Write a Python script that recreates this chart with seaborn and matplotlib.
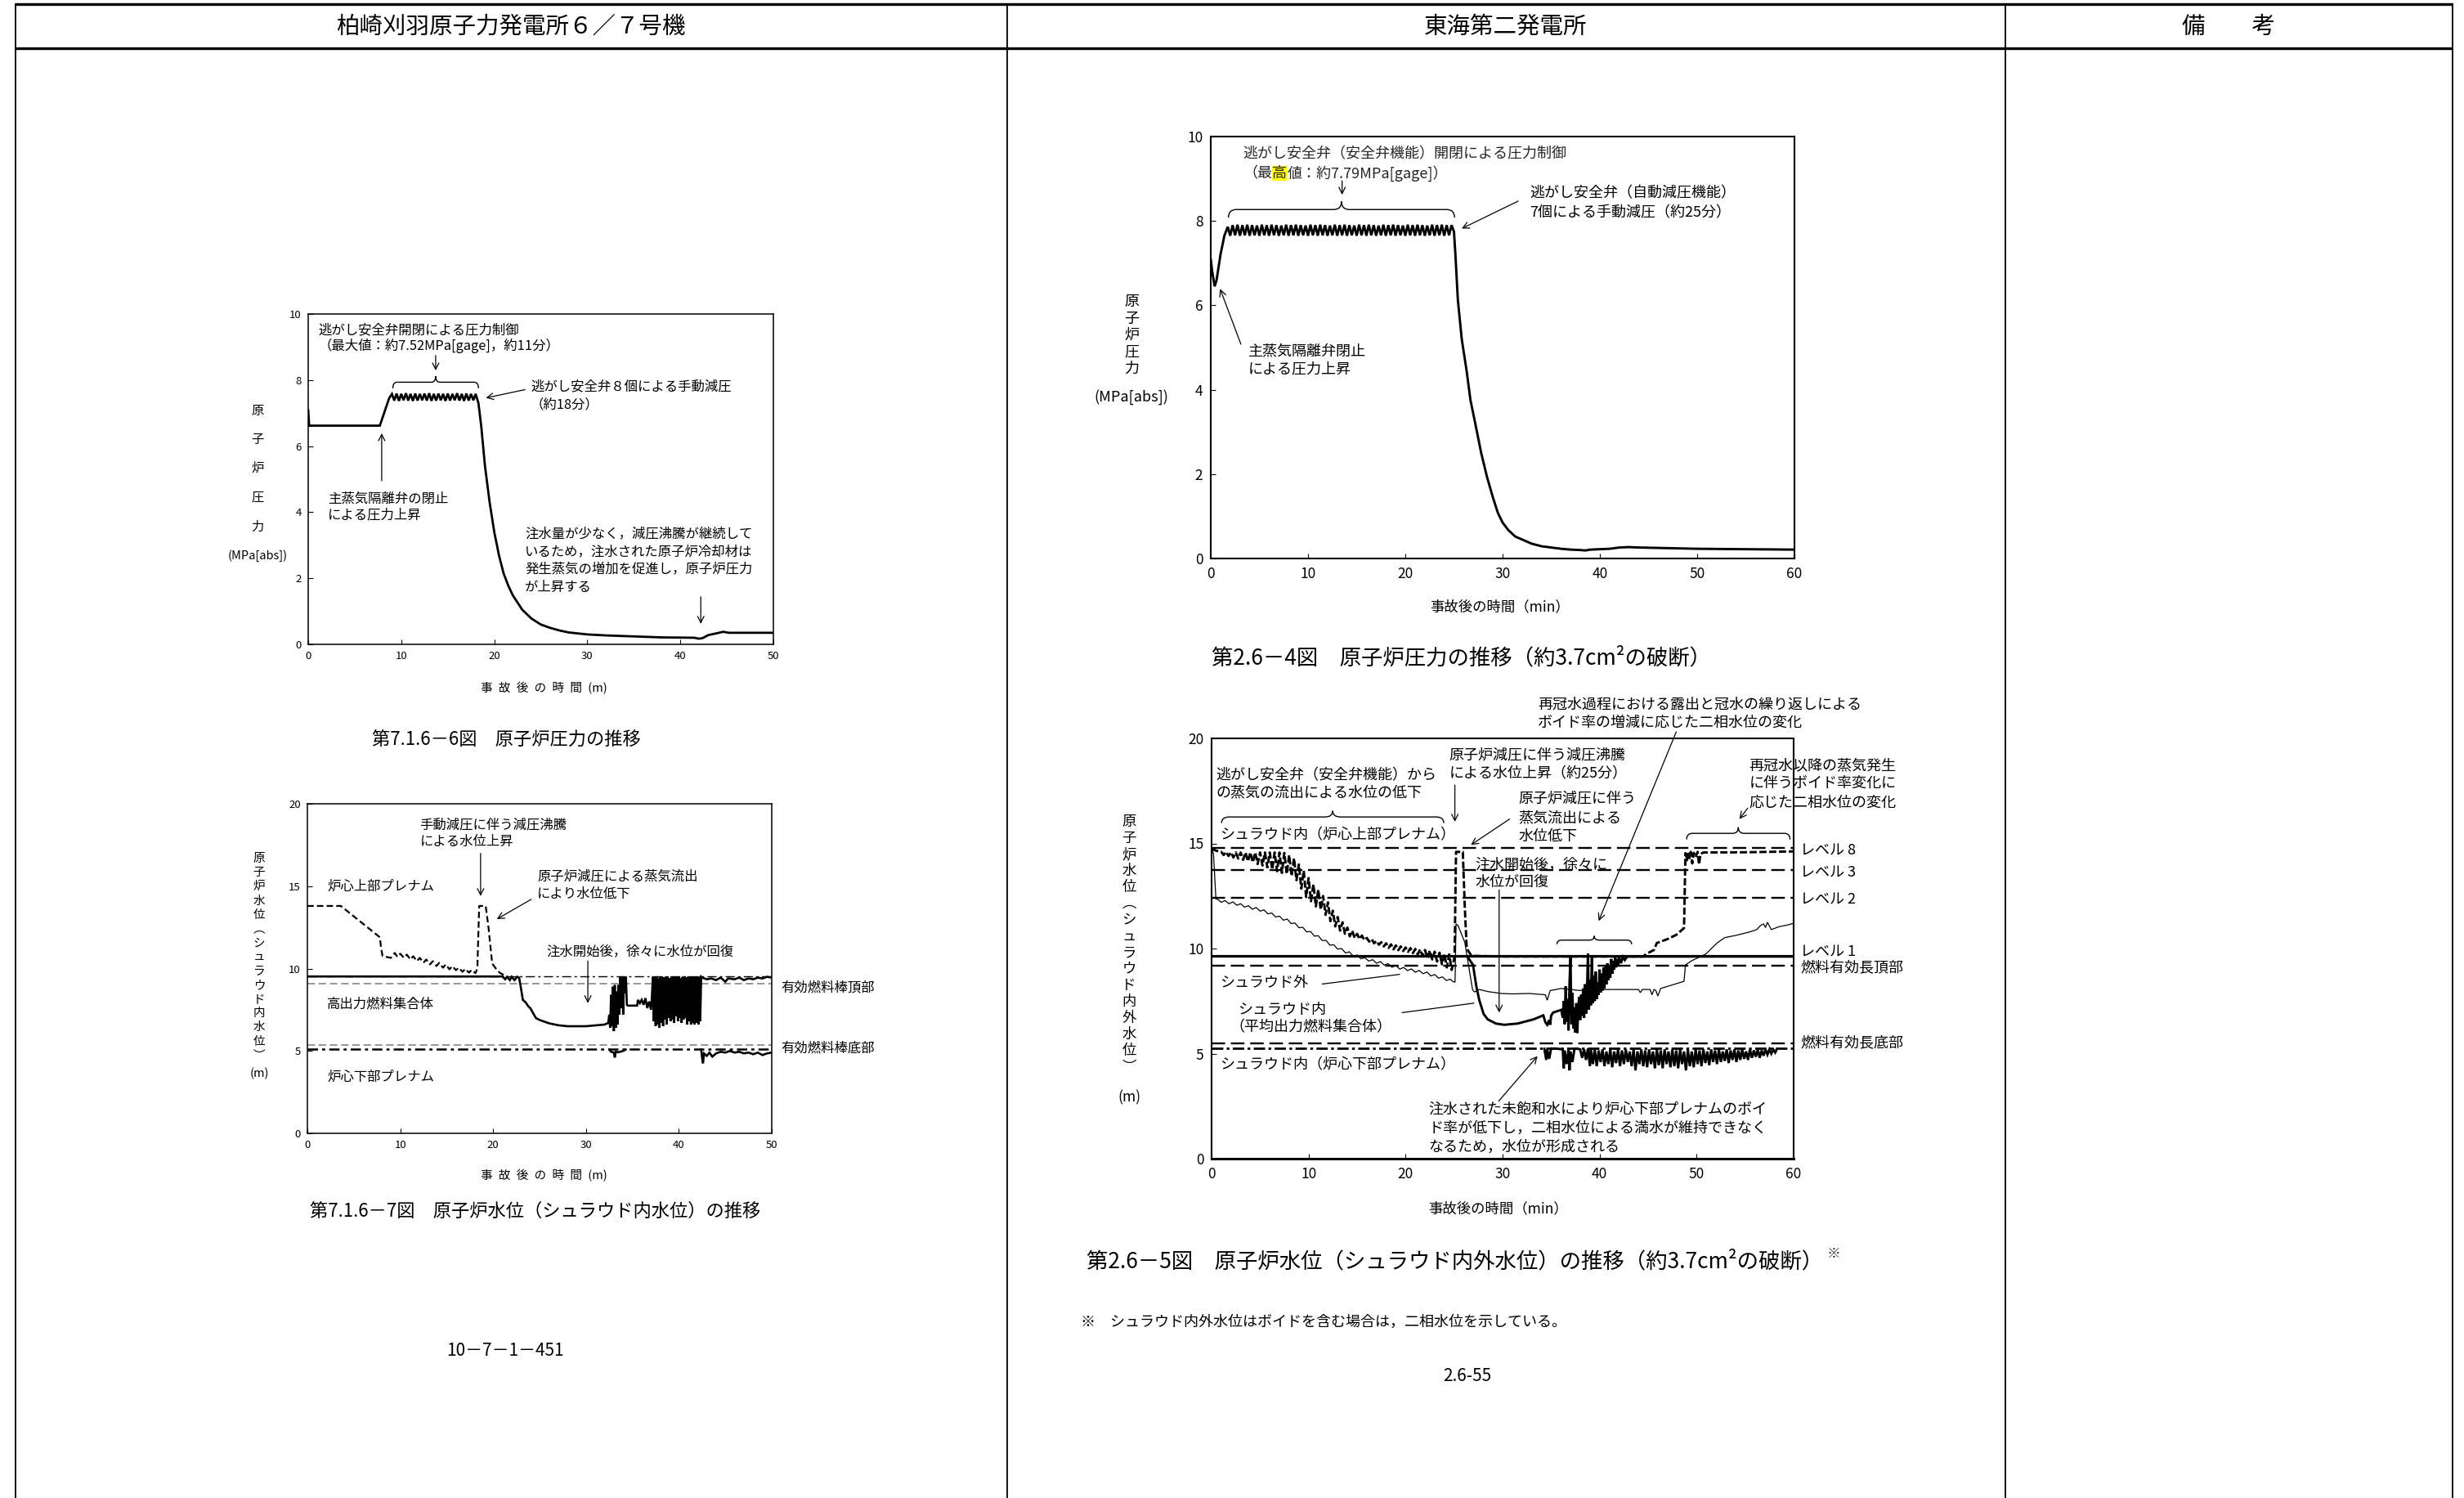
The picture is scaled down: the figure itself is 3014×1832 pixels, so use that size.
import numpy as np
import pandas as pd
import matplotlib
matplotlib.use("Agg")
import matplotlib.pyplot as plt
import matplotlib.text
import seaborn as sns
from matplotlib.path import Path
from matplotlib.patches import PathPatch
from matplotlib.lines import Line2D

# ====================== DATA ======================
# --- Fig 7.1.6-6 : KK reactor pressure (MPa[abs]) ---
kk_p_pre = [(0.0, 7.1), (0.1, 6.62), (7.7, 6.62), (8.7, 7.45)]
kk_p_zig_t = [9.00, 9.25, 9.50, 9.75, 10.00, 10.25, 10.50, 10.75, 11.00, 11.25, 11.50, 11.75,
              12.00, 12.25, 12.50, 12.75, 13.00, 13.25, 13.50, 13.75, 14.00, 14.25, 14.50, 14.75,
              15.00, 15.25, 15.50, 15.75, 16.00, 16.25, 16.50, 16.75, 17.00, 17.25, 17.50, 17.75, 18.00]
kk_p_zig_v = [7.58, 7.38, 7.59, 7.37, 7.58, 7.39, 7.60, 7.38, 7.58, 7.37, 7.59, 7.38,
              7.58, 7.39, 7.59, 7.38, 7.60, 7.37, 7.58, 7.38, 7.59, 7.39, 7.58, 7.37,
              7.59, 7.38, 7.58, 7.39, 7.60, 7.38, 7.58, 7.37, 7.59, 7.38, 7.58, 7.39, 7.58]
kk_p_post = [(18.3, 7.3), (18.6, 6.6), (19.0, 5.4), (19.5, 4.3), (20.0, 3.4), (20.5, 2.7), (21.0, 2.15),
             (21.5, 1.78), (22.0, 1.48), (23.0, 1.05), (24.0, 0.78), (25.0, 0.6), (26.0, 0.5), (27.0, 0.42),
             (28.0, 0.36), (30.0, 0.3), (32.0, 0.27), (35.0, 0.24), (38.0, 0.21), (41.5, 0.2), (42.0, 0.17),
             (42.4, 0.19), (43.0, 0.28), (44.0, 0.34), (44.6, 0.38), (45.2, 0.35), (50.0, 0.35)]

# --- Fig 7.1.6-7 : KK water level (m) ---
kk_up = [(0.0, 13.8), (3.6, 13.8), (7.8, 11.9), (7.95, 11.2), (8.1, 10.75), (9.0, 10.65), (9.4, 10.95),
         (9.7, 10.7), (10.0, 10.9), (10.4, 10.65), (10.7, 10.85), (11.1, 10.55), (11.4, 10.75), (11.8, 10.45),
         (12.1, 10.65), (12.5, 10.35), (12.8, 10.55), (13.2, 10.25), (13.5, 10.45), (13.9, 10.15), (14.2, 10.35),
         (14.6, 10.05), (14.9, 10.25), (15.3, 9.95), (15.6, 10.15), (16.0, 9.9), (16.3, 10.05), (16.7, 9.8),
         (17.0, 9.98), (17.4, 9.75), (17.7, 9.92), (18.1, 9.72), (18.3, 10.0), (18.5, 13.8), (19.2, 13.8),
         (19.5, 12.5), (19.9, 10.3), (20.3, 10.0), (20.7, 9.75), (21.3, 9.55)]
kk_hp = [(0.0, 9.52), (21.0, 9.52), (21.3, 9.35), (21.5, 9.5), (21.8, 9.3), (22.0, 9.5), (22.3, 9.3),
         (22.6, 9.5), (22.8, 9.45), (23.0, 8.8), (23.2, 8.1), (23.5, 7.95), (23.8, 7.7), (24.0, 7.6),
         (24.3, 7.3), (24.6, 7.0), (25.0, 6.88), (26.0, 6.68), (27.0, 6.56), (28.0, 6.5), (30.0, 6.5),
         (31.0, 6.55), (32.0, 6.6), (32.4, 6.7), (32.5, 7.2), (32.6, 6.4), (32.7, 8.4), (32.8, 6.5),
         (32.9, 8.9), (33.0, 6.2), (33.1, 9.0), (33.2, 6.4), (33.3, 8.6), (33.4, 6.6), (33.5, 9.0),
         (33.6, 7.2), (33.7, 9.5), (33.8, 7.6), (33.9, 9.5), (34.0, 7.2), (34.1, 9.5), (34.2, 8.5),
         (34.3, 9.5), (34.4, 7.8), (34.5, 7.75), (35.5, 7.75), (35.6, 8.1), (35.8, 7.9), (36.0, 8.1),
         (36.2, 7.8), (36.4, 8.2), (36.6, 7.6), (36.8, 8.0), (37.0, 7.5), (37.1, 8.3),
         (37.2, 9.5), (37.3, 6.8), (37.4, 9.5), (37.5, 6.5), (37.6, 9.5), (37.7, 6.6), (37.8, 9.4),
         (37.9, 6.4), (38.0, 9.5), (38.1, 6.7), (38.2, 9.5), (38.3, 6.5), (38.4, 9.45), (38.5, 6.9),
         (38.6, 9.5), (38.7, 6.6), (38.8, 9.5), (38.9, 7.0), (39.0, 9.4), (39.1, 6.8), (39.2, 9.5),
         (39.3, 6.9), (39.4, 9.5), (39.5, 6.7), (39.6, 9.45), (39.7, 7.1), (39.8, 9.5), (39.9, 6.8),
         (40.0, 9.5), (40.1, 7.0), (40.2, 9.4), (40.3, 6.7), (40.4, 9.5), (40.5, 6.9), (40.6, 9.5),
         (40.7, 7.0), (40.8, 9.45), (40.9, 6.6), (41.0, 9.5), (41.1, 6.8), (41.2, 9.5), (41.3, 6.6),
         (41.4, 9.45), (41.5, 6.7), (41.6, 9.5), (41.7, 6.6), (41.8, 9.5), (41.9, 6.7), (42.0, 9.45),
         (42.1, 6.6), (42.2, 9.5), (42.3, 6.8), (42.4, 9.5), (42.5, 9.45), (43.0, 9.35), (43.5, 9.4),
         (44.0, 9.3), (44.5, 9.45), (45.0, 9.2), (45.3, 9.4), (46.0, 9.35), (46.5, 9.45), (47.0, 9.3),
         (47.5, 9.4), (48.0, 9.35), (48.5, 9.45), (49.0, 9.4), (49.5, 9.5), (50.0, 9.45)]
kk_lp1 = [(32.5, 5.09), (32.7, 4.95), (33.0, 4.9), (33.1, 4.6), (33.2, 4.95), (33.5, 4.92), (34.0, 5.0), (34.3, 5.09)]
kk_lp2 = [(42.4, 5.09), (42.5, 4.6), (42.6, 4.25), (42.7, 4.85), (43.0, 4.7), (43.3, 4.9), (43.6, 4.65),
          (44.0, 4.85), (44.5, 4.95), (45.0, 4.9), (45.5, 5.0), (46.0, 4.9), (46.5, 4.95), (47.0, 4.85),
          (47.5, 4.9), (48.0, 4.8), (48.5, 4.9), (49.0, 4.75), (49.5, 4.85), (50.0, 4.9)]
kk_ref_dashdot = [9.52]
kk_ref_gray = [9.06, 5.34]
kk_ref_dashdot_low = [5.09]

# --- Fig 2.6-4 : Tokai reactor pressure (MPa[abs]) ---
tk_p_pre = [(0.0, 7.1), (0.15, 6.8), (0.4, 6.45), (0.6, 6.6), (1.0, 7.2), (1.4, 7.65)]
tk_p_zig_t = [1.75, 2.00, 2.25, 2.50, 2.75, 3.00, 3.25, 3.50,
              3.75, 4.00, 4.25, 4.50, 4.75, 5.00, 5.25, 5.50,
              5.75, 6.00, 6.25, 6.50, 6.75, 7.00, 7.25, 7.50,
              7.75, 8.00, 8.25, 8.50, 8.75, 9.00, 9.25, 9.50,
              9.75, 10.00, 10.25, 10.50, 10.75, 11.00, 11.25, 11.50,
              11.75, 12.00, 12.25, 12.50, 12.75, 13.00, 13.25, 13.50,
              13.75, 14.00, 14.25, 14.50, 14.75, 15.00, 15.25, 15.50,
              15.75, 16.00, 16.25, 16.50, 16.75, 17.00, 17.25, 17.50,
              17.75, 18.00, 18.25, 18.50, 18.75, 19.00, 19.25, 19.50,
              19.75, 20.00, 20.25, 20.50, 20.75, 21.00, 21.25, 21.50,
              21.75, 22.00, 22.25, 22.50, 22.75, 23.00, 23.25, 23.50,
              23.75, 24.00, 24.25, 24.50, 24.75]
tk_p_zig_v = [7.86, 7.65, 7.90, 7.66, 7.91, 7.65, 7.90, 7.66,
              7.91, 7.65, 7.90, 7.66, 7.89, 7.65, 7.91, 7.66,
              7.90, 7.65, 7.91, 7.66, 7.90, 7.65, 7.89, 7.66,
              7.91, 7.65, 7.90, 7.66, 7.91, 7.65, 7.90, 7.66,
              7.89, 7.65, 7.91, 7.66, 7.90, 7.65, 7.91, 7.66,
              7.90, 7.65, 7.89, 7.66, 7.91, 7.65, 7.90, 7.66,
              7.91, 7.65, 7.90, 7.66, 7.89, 7.65, 7.91, 7.66,
              7.90, 7.65, 7.91, 7.66, 7.90, 7.65, 7.89, 7.66,
              7.91, 7.65, 7.90, 7.66, 7.91, 7.65, 7.90, 7.66,
              7.89, 7.65, 7.91, 7.66, 7.90, 7.65, 7.91, 7.66,
              7.90, 7.65, 7.89, 7.66, 7.91, 7.65, 7.90, 7.66,
              7.91, 7.65, 7.90, 7.66, 7.90]
tk_p_post = [(25.0, 7.75), (25.15, 7.2), (25.4, 6.13), (25.8, 5.2), (26.3, 4.45), (26.7, 3.75), (27.2, 3.19),
             (27.8, 2.5), (28.4, 1.93), (29.0, 1.45), (29.5, 1.09), (30.0, 0.85), (30.6, 0.67), (31.3, 0.52),
             (32.3, 0.42), (33.0, 0.35), (34.0, 0.29), (35.0, 0.26), (36.0, 0.23), (37.0, 0.21), (38.0, 0.2),
             (38.5, 0.19), (39.0, 0.21), (40.0, 0.22), (41.0, 0.23), (42.0, 0.26), (43.0, 0.27), (44.0, 0.26),
             (46.0, 0.25), (48.0, 0.24), (50.0, 0.23), (55.0, 0.22), (60.0, 0.21)]

# --- Fig 2.6-5 : Tokai water level inside / outside shroud (m) ---
tk_up = [(0.0, 14.75), (0.5, 14.65),
         (1.00, 14.60), (1.25, 14.45), (1.50, 14.60), (1.75, 14.40), (2.00, 14.58), (2.25, 14.33), (2.50, 14.58), (2.75, 14.28),
         (3.00, 14.57), (3.25, 14.22), (3.50, 14.57), (3.75, 14.15), (4.00, 14.57), (4.25, 14.10), (4.50, 14.57), (4.75, 14.02),
         (5.00, 14.57), (5.25, 13.95), (5.50, 14.57), (5.75, 13.86), (6.00, 14.57), (6.25, 13.76), (6.50, 14.57), (6.75, 13.68),
         (7.00, 14.57), (7.25, 13.60), (7.50, 14.55), (7.75, 13.55), (8.00, 14.45), (8.25, 13.45), (8.50, 14.30), (8.75, 13.25),
         (9.00, 14.00), (9.25, 12.85), (9.50, 13.70), (9.75, 12.45), (10.00, 13.35), (10.25, 12.25), (10.50, 13.05), (10.75, 12.00),
         (11.00, 12.80), (11.25, 11.85), (11.50, 12.50), (11.75, 11.60), (12.00, 12.20), (12.25, 11.30), (12.50, 11.80), (12.75, 11.05),
         (13.00, 11.50), (13.25, 10.85), (13.50, 11.25), (13.75, 10.70), (14.00, 11.00), (14.25, 10.58), (14.50, 10.85), (14.75, 10.50),
         (15.00, 10.70), (15.25, 10.45), (15.50, 10.62), (15.75, 10.40), (16.00, 10.50), (16.25, 10.33), (16.50, 10.45), (16.75, 10.25),
         (17.00, 10.36), (17.25, 10.18), (17.50, 10.30), (17.75, 10.10), (18.00, 10.25), (18.25, 10.03), (18.50, 10.20), (18.75, 9.96),
         (19.00, 10.15), (19.25, 9.92), (19.50, 10.10), (19.75, 9.88), (20.00, 10.05), (20.25, 9.84), (20.50, 10.02), (20.75, 9.78),
         (21.00, 9.98), (21.25, 9.72), (21.50, 9.96), (21.75, 9.65), (22.00, 9.93), (22.25, 9.55), (22.50, 9.90), (22.75, 9.48),
         (23.00, 9.85), (23.25, 9.38), (23.50, 9.80), (23.75, 9.25), (24.00, 9.75), (24.25, 9.10), (24.50, 9.72), (24.75, 8.98),
         (25.05, 9.60), (25.20, 14.60), (25.90, 14.60), (26.10, 12.00), (26.30, 10.00), (26.80, 9.65), (30.0, 9.62),
         (35.0, 9.62), (40.0, 9.62), (44.5, 9.62), (44.8, 9.74), (45.6, 9.93), (45.9, 10.26), (47.0, 10.45),
         (47.9, 10.65), (48.7, 10.97), (48.85, 14.54), (49.0, 14.2), (49.1, 14.6), (49.25, 14.3), (49.4, 14.6),
         (49.55, 14.05), (49.7, 14.55), (49.9, 14.35), (50.1, 14.6), (50.25, 14.0), (50.4, 14.5), (50.7, 14.57),
         (55.0, 14.58), (60.0, 14.62)]
tk_out = [(0.0, 14.8), (0.2, 14.5), (0.45, 12.35),
          (0.6, 12.35), (1.0, 12.20), (1.4, 12.28), (1.8, 12.13), (2.2, 12.22), (2.6, 12.06), (3.0, 12.13),
          (3.4, 11.97), (3.8, 12.04), (4.2, 11.87), (4.6, 11.95), (5.0, 11.78), (5.4, 11.84), (5.8, 11.65),
          (6.2, 11.69), (6.6, 11.50), (7.0, 11.54), (7.4, 11.35), (7.8, 11.40), (8.2, 11.19), (8.6, 11.21),
          (9.0, 10.99), (9.4, 11.01), (9.8, 10.79), (10.2, 10.81), (10.6, 10.59), (11.0, 10.61), (11.4, 10.38),
          (11.8, 10.39), (12.2, 10.16), (12.6, 10.18), (13.0, 9.97), (13.4, 10.00), (13.8, 9.79), (14.2, 9.84),
          (14.6, 9.64), (15.0, 9.69), (15.4, 9.51), (15.8, 9.57), (16.2, 9.40), (16.6, 9.47), (17.0, 9.30),
          (17.4, 9.38), (17.8, 9.21), (18.2, 9.28), (18.6, 9.11), (19.0, 9.19), (19.4, 9.02), (19.8, 9.10),
          (20.2, 8.95), (20.6, 9.03), (21.0, 8.87), (21.4, 8.96), (21.8, 8.80), (22.2, 8.88), (22.6, 8.70),
          (23.0, 8.76), (23.4, 8.59), (23.8, 8.65), (24.2, 8.48), (24.6, 8.54), (24.9, 8.42),
          (25.1, 8.40), (25.2, 11.17), (25.4, 11.10), (26.1, 10.30), (26.4, 9.45), (26.9, 8.05), (27.1, 7.93),
          (27.6, 8.05), (28.5, 7.95), (29.9, 7.86), (31.0, 7.84), (32.7, 7.86), (34.4, 7.80), (34.6, 7.54),
          (34.9, 8.00), (35.5, 8.05), (36.0, 8.10), (37.0, 8.05), (38.0, 8.00), (39.0, 8.05), (40.0, 8.05),
          (41.0, 8.05), (42.0, 8.05), (43.0, 8.05), (44.0, 8.05), (44.2, 7.90), (44.4, 8.05), (45.2, 8.05),
          (45.4, 7.80), (45.6, 8.05), (45.8, 8.00), (46.0, 7.74), (46.3, 8.10), (47.3, 8.24), (48.7, 8.44),
          (48.85, 9.22), (49.5, 9.42), (50.95, 9.74), (52.1, 10.26), (52.9, 10.52), (54.0, 10.62), (55.4, 10.78),
          (56.2, 10.90), (56.6, 11.10), (56.9, 11.17), (57.1, 11.00), (57.3, 11.25), (57.7, 10.90), (58.5, 11.04),
          (59.2, 11.10), (60.0, 11.20)]
tk_avg = [(26.4, 9.60), (26.95, 9.22), (27.3, 8.18), (27.6, 7.54), (28.04, 6.89), (28.46, 6.63), (29.3, 6.43),
          (30.15, 6.37), (31.56, 6.43), (33.2, 6.63), (34.2, 6.82), (34.4, 6.50), (34.6, 6.37), (34.8, 6.60),
          (34.9, 6.37), (35.0, 6.80), (35.2, 6.95), (36.05, 7.08),
          (36.2, 6.7), (36.3, 7.5), (36.4, 6.4), (36.5, 8.2), (36.6, 6.5), (36.7, 7.6), (36.8, 6.1), (36.9, 8.4),
          (37.0, 9.6), (37.1, 6.4), (37.2, 7.9), (37.3, 6.2), (37.4, 7.2), (37.5, 6.0), (37.6, 7.4), (37.7, 5.98),
          (37.8, 7.2), (37.9, 7.7), (38.0, 6.6), (38.1, 7.8), (38.2, 6.8), (38.3, 8.1), (38.4, 6.7), (38.5, 8.3),
          (38.6, 6.9), (38.7, 8.0), (38.8, 9.75), (38.9, 7.1), (39.0, 8.5), (39.1, 7.3), (39.2, 9.6), (39.3, 7.4),
          (39.4, 8.7), (39.5, 7.5), (39.6, 8.9), (39.7, 7.6), (39.8, 8.4), (39.9, 7.8), (40.0, 9.0), (40.1, 7.9),
          (40.2, 8.8), (40.3, 8.0), (40.4, 9.1), (40.5, 8.1), (40.6, 9.2), (40.7, 8.3), (40.8, 9.3), (40.9, 8.5),
          (41.0, 9.2), (41.1, 8.6), (41.2, 9.5), (41.3, 8.8), (41.4, 9.4), (41.5, 9.0), (41.6, 9.6), (41.7, 9.1),
          (41.8, 9.5), (41.9, 9.2), (42.0, 9.6), (42.2, 9.3), (42.4, 9.6), (42.6, 9.45), (42.8, 9.6), (43.0, 9.62),
          (60.0, 9.62)]
tk_lp = [(34.3, 5.24), (34.5, 4.7), (34.6, 5.2), (34.8, 4.75), (35.0, 5.24), (35.5, 5.24), (36.2, 5.2), (36.3, 4.3),
         (36.4, 5.15), (36.6, 4.5), (36.8, 5.2), (36.9, 4.2), (37.0, 5.1), (37.2, 4.6), (37.4, 5.2), (37.6, 5.24),
         (38.0, 5.2), (38.2, 4.8), (38.4, 5.2), (38.6, 4.7), (38.8, 5.24), (39.0, 4.4), (39.1, 5.2), (39.3, 4.5),
         (39.5, 5.2), (39.7, 4.4), (39.9, 5.15), (40.1, 4.6), (40.3, 5.2), (40.5, 4.4), (40.7, 5.1), (40.9, 4.5),
         (41.1, 5.2), (41.3, 4.35), (41.5, 5.1), (41.7, 4.55), (41.9, 5.2), (42.1, 4.4), (42.3, 5.15), (42.5, 4.5),
         (42.7, 5.2), (42.9, 4.6), (43.1, 5.1), (43.3, 4.4), (43.5, 5.2), (43.7, 4.2), (43.9, 5.1), (44.1, 4.5),
         (44.3, 5.2), (44.5, 4.4), (44.7, 5.15), (44.9, 4.35), (45.1, 5.2), (45.3, 4.5), (45.5, 5.1), (45.7, 4.3),
         (45.9, 5.2), (46.1, 4.45), (46.3, 5.15), (46.5, 4.3), (46.7, 5.2), (46.9, 4.5), (47.1, 5.1), (47.3, 4.35),
         (47.5, 5.2), (47.7, 4.4), (47.9, 5.15), (48.1, 4.3), (48.3, 5.2), (48.5, 4.5), (48.7, 5.1), (48.9, 4.2),
         (49.1, 5.2), (49.3, 4.4), (49.5, 5.1), (49.7, 4.35), (49.9, 5.2), (50.1, 4.5), (50.3, 5.15), (50.5, 4.4),
         (50.7, 5.2), (50.9, 4.55), (51.1, 5.1), (51.3, 4.45), (51.5, 5.2), (51.7, 4.6), (51.9, 5.15), (52.1, 4.5),
         (52.3, 5.2), (52.5, 4.6), (52.7, 5.1), (52.9, 4.65), (53.1, 5.2), (53.3, 4.55), (53.5, 5.15), (53.7, 4.7),
         (53.9, 5.2), (54.1, 4.6), (54.3, 5.15), (54.5, 4.7), (54.7, 5.2), (54.9, 4.75), (55.1, 5.1), (55.3, 4.7),
         (55.5, 5.2), (55.7, 4.8), (55.9, 5.15), (56.1, 4.85), (56.3, 5.2), (56.5, 4.8), (56.7, 5.15), (56.9, 4.9),
         (57.1, 5.2), (57.3, 4.95), (57.5, 5.2), (57.7, 5.0), (57.9, 5.2), (58.1, 5.05), (58.3, 5.24)]
tk_lvl_dashed = [14.8, 13.72, 12.4, 9.18, 5.47]
tk_lvl_solid = [9.64]
tk_lvl_dashdot = [5.24]
tk_lvl_labels = ["レベル 8", "レベル 3", "レベル 2", "レベル 1", "燃料有効長頂部", "燃料有効長底部"]
tk_lvl_label_y = [14.7, 13.65, 12.36, 9.88, 9.04, 5.49]

# ticks
kk_xticks = [0, 10, 20, 30, 40, 50]
kk_p_yticks = [0, 2, 4, 6, 8, 10]
kk_l_yticks = [0, 5, 10, 15, 20]
tk_xticks = [0, 10, 20, 30, 40, 50, 60]
tk_p_yticks = [0, 2, 4, 6, 8, 10]
tk_l_yticks = [0, 5, 10, 15, 20]

# ====================== FIGURE ======================
sns.set_theme(style="ticks")
plt.rcParams['font.family'] = ['Noto Sans CJK JP', 'DejaVu Sans']
plt.rcParams['axes.unicode_minus'] = False

W, H = 3014, 1832
fig = plt.figure(figsize=(W / 100, H / 100), dpi=100)
fig.patch.set_facecolor('white')


def axes_px(l, t, r, b):
    return fig.add_axes([l / W, 1 - b / H, (r - l) / W, (b - t) / H])


def ftext(x, y, s, fs, ha='center', va='center', **kw):
    return fig.text(x / W, 1 - y / H, s, fontsize=fs, ha=ha, va=va, color='black', **kw)


def fline(x0, y0, x1, y1, lw):
    fig.add_artist(Line2D([x0 / W, x1 / W], [1 - y0 / H, 1 - y1 / H], color='black', lw=lw,
                          transform=fig.transFigure, solid_capstyle='butt'))


def pairs(p):
    t, v = zip(*p)
    return list(t), list(v)


def sline(ax, t, v, lw, ls='-', color='black'):
    df = pd.DataFrame({'t': t, 'v': v})
    sns.lineplot(data=df, x='t', y='v', ax=ax, estimator=None, sort=False, errorbar=None,
                 color=color, linewidth=lw, legend=False)
    ln = ax.lines[-1]
    ln.set_linestyle(ls)
    ln.set_solid_joinstyle('miter')
    return ln


def style(ax, xt, yt, fs, spine_lw, pad):
    ax.set_xlim(xt[0], xt[-1])
    ax.set_ylim(yt[0], yt[-1])
    ax.set_xticks(xt)
    ax.set_yticks(yt)
    ax.set_xticklabels([str(v) for v in xt])
    ax.set_yticklabels([str(v) for v in yt])
    ax.tick_params(axis='both', direction='in', length=4, width=0.8, labelsize=fs, pad=pad, colors='black')
    ax.set_xlabel('')
    ax.set_ylabel('')
    ax.grid(False)
    ax.set_facecolor('white')
    for sp in ax.spines.values():
        sp.set_visible(True)
        sp.set_linewidth(spine_lw)
        sp.set_color('black')


def tlines(ax, x, ys, strs, fs, ha='left'):
    for y, s in zip(ys, strs):
        ax.text(x, y, s, fontsize=fs, ha=ha, va='center', color='black')


def arrow(ax, p_from, p_to, lw=0.9, ms=14, style_='->'):
    ax.annotate('', xy=p_to, xytext=p_from, annotation_clip=False,
                arrowprops=dict(arrowstyle=style_, color='black', lw=lw, shrinkA=0, shrinkB=0,
                                mutation_scale=ms))


def brace(ax, x0, x1, y0, h, r, lw=1.0):
    xm = (x0 + x1) / 2
    ym = y0 + h / 2
    yt = y0 + h
    verts = [(x0, y0), (x0, ym), (x0 + r, ym), (xm - r, ym), (xm, ym), (xm, yt),
             (xm, ym), (xm + r, ym), (x1 - r, ym), (x1, ym), (x1, y0)]
    codes = [Path.MOVETO, Path.CURVE3, Path.CURVE3, Path.LINETO, Path.CURVE3, Path.CURVE3,
             Path.CURVE3, Path.CURVE3, Path.LINETO, Path.CURVE3, Path.CURVE3]
    ax.add_patch(PathPatch(Path(verts, codes), fill=False, lw=lw, edgecolor='black', clip_on=False))


# ---------------- page frame ----------------
fline(19, 5, 3000, 5, 2.4)
fline(19, 59, 3000, 59, 2.4)
for xv in [19, 1232, 2453, 3000]:
    fline(xv, 4, xv, 1832, 1.3)
ftext(625, 33, "柏崎刈羽原子力発電所６／７号機", 20.5)
ftext(1842, 33, "東海第二発電所", 20.5)
ftext(2726, 33, "備　　考", 20.5)

# ================= Chart 1 : KK pressure =================
ax1 = axes_px(377, 384, 946, 788)
t, v = pairs(kk_p_pre + list(zip(kk_p_zig_t, kk_p_zig_v)) + kk_p_post)
sline(ax1, t, v, 2.0)
style(ax1, kk_xticks, kk_p_yticks, 9.5, 1.1, 6)
fs1 = 11.8
tlines(ax1, 1.13, [9.52, 9.03], ["逃がし安全弁開閉による圧力制御", "（最大値：約7.52MPa[gage]，約11分）"], fs1)
arrow(ax1, (13.7, 8.74), (13.7, 8.29))
brace(ax1, 9.1, 18.3, 7.75, 0.37, 0.45)
tlines(ax1, 23.9, [7.79, 7.25], ["逃がし安全弁８個による手動減圧", "（約18分）"], fs1)
arrow(ax1, (23.3, 7.71), (19.1, 7.46))
arrow(ax1, (7.9, 4.95), (7.9, 6.39))
tlines(ax1, 2.14, [4.41, 3.92], ["主蒸気隔離弁の閉止", "による圧力上昇"], fs1)
tlines(ax1, 23.3, [3.34, 2.80, 2.27, 1.73],
       ["注水量が少なく，減圧沸騰が継続して", "いるため，注水された原子炉冷却材は",
        "発生蒸気の増加を促進し，原子炉圧力", "が上昇する"], fs1)
arrow(ax1, (42.2, 1.44), (42.2, 0.62))
for y, c in zip([502, 537, 572, 608, 644], "原子炉圧力"):
    ftext(315, y, c, 11)
ftext(315, 680, "(MPa[abs])", 10.5)
ftext(665, 842, "事\u2002故\u2002後\u2002の\u2002時\u2002間\u2002(m)", 10.5)
ftext(619, 904, "第7.1.6－6図　原子炉圧力の推移", 16)

# ================= Chart 2 : KK water level =================
ax2 = axes_px(376, 983, 944, 1386)
for y in kk_ref_gray:
    ax2.axhline(y, color='#7a7a7a', lw=1.1, ls=(0, (6, 3)))
for y in kk_ref_dashdot:
    ax2.axhline(y, color='black', lw=1.0, ls=(0, (8, 3, 2, 3)))
for y in kk_ref_dashdot_low:
    ax2.axhline(y, color='black', lw=1.8, ls=(0, (5, 2, 1.5, 2)))
t, v = pairs(kk_hp)
sline(ax2, t, v, 1.9)
t, v = pairs(kk_up)
sline(ax2, t, v, 1.6, ls=(0, (3.5, 1.8)))
t, v = pairs(kk_lp1)
sline(ax2, t, v, 1.9)
t, v = pairs(kk_lp2)
sline(ax2, t, v, 1.9)
style(ax2, kk_xticks, kk_l_yticks, 9.5, 1.1, 6)
fs2 = 11.8
tlines(ax2, 12.1, [18.73, 17.69], ["手動減圧に伴う減圧沸騰", "による水位上昇"], fs2)
arrow(ax2, (18.65, 16.99), (18.65, 14.4))
tlines(ax2, 24.77, [15.59, 14.51], ["原子炉減圧による蒸気流出", "により水位低下"], fs2)
arrow(ax2, (24.1, 14.2), (20.4, 13.0))
tlines(ax2, 25.7, [11.04], ["注水開始後，徐々に水位が回復"], fs2)
arrow(ax2, (30.2, 10.46), (30.2, 7.9))
tlines(ax2, 2.12, [15.0], ["炉心上部プレナム"], fs2)
tlines(ax2, 2.12, [7.82], ["高出力燃料集合体"], fs2)
tlines(ax2, 2.12, [3.44], ["炉心下部プレナム"], fs2)
tlines(ax2, 51.0, [8.84, 5.17], ["有効燃料棒頂部", "有効燃料棒底部"], fs2)
for i, c in enumerate("原子炉水位︵シュラウド内水位︶"):
    ftext(317, 1050 + 17.2 * i, c, 10.5)
ftext(317, 1313, "(m)", 10.5)
ftext(665, 1438, "事\u2002故\u2002後\u2002の\u2002時\u2002間\u2002(m)", 10.5)
ftext(655, 1481, "第7.1.6－7図　原子炉水位（シュラウド内水位）の推移", 16)
ftext(618, 1652, "10－7－1－451", 15)

# ================= Chart 3 : Tokai pressure =================
ax3 = axes_px(1481, 167, 2195, 683)
t, v = pairs(tk_p_pre + list(zip(tk_p_zig_t, tk_p_zig_v)) + tk_p_post)
sline(ax3, t, v, 2.1)
style(ax3, tk_xticks, tk_p_yticks, 12.5, 1.5, 7)
fs3 = 13
ax3.text(3.3, 9.58, "逃がし安全弁（安全弁機能）開閉による圧力制御", fontsize=fs3, ha='left', va='center')
h1 = ax3.text(3.3, 9.13, "（最", fontsize=fs3, ha='left', va='center')
h2 = ax3.annotate("高", xy=(1, 0.5), xycoords=h1, ha='left', va='center', fontsize=fs3,
                  bbox=dict(boxstyle='square,pad=0.02', fc='#ffff00', ec='none'))
ax3.annotate("値：約7.79MPa[gage]）", xy=(1, 0.5), xycoords=h2, ha='left', va='center', fontsize=fs3)
arrow(ax3, (13.5, 8.95), (13.5, 8.62))
brace(ax3, 1.82, 25.06, 8.08, 0.38, 0.8)
tlines(ax3, 32.8, [8.66, 8.19], ["逃がし安全弁（自動減圧機能）", "7個による手動減圧（約25分）"], fs3)
arrow(ax3, (31.6, 8.47), (25.8, 7.82))
arrow(ax3, (3.1, 5.08), (0.96, 6.39))
tlines(ax3, 3.86, [4.92, 4.48], ["主蒸気隔離弁閉止", "による圧力上昇"], fs3)
for i, c in enumerate("原子炉圧力"):
    ftext(1384, 369 + 20.5 * i, c, 13)
ftext(1384, 486, "(MPa[abs])", 13)
ftext(1834, 742, "事故後の時間（min）", 12.5)
ftext(1788, 805, "第2.6－4図　原子炉圧力の推移（約3.7cm²の破断）", 19)

# ================= Chart 4 : Tokai water level =================
ax4 = axes_px(1482, 903, 2194, 1417)
for y in tk_lvl_dashed:
    ax4.axhline(y, color='black', lw=1.7, ls=(0, (7, 3)))
for y in tk_lvl_solid:
    ax4.axhline(y, color='black', lw=2.3)
for y in tk_lvl_dashdot:
    ax4.axhline(y, color='black', lw=2.0, ls=(0, (5, 1.5, 1.2, 1.5)))
t, v = pairs(tk_out)
sline(ax4, t, v, 0.9)
t, v = pairs(tk_avg)
sline(ax4, t, v, 2.1)
t, v = pairs(tk_lp)
sline(ax4, t, v, 2.1)
t, v = pairs(tk_up)
sline(ax4, t, v, 2.1, ls=(0, (3, 1.1)))
style(ax4, tk_xticks, tk_l_yticks, 12.5, 1.5, 7)
ax4.spines['bottom'].set_linewidth(2.2)
fs4 = 13
tlines(ax4, 60.7, tk_lvl_label_y, tk_lvl_labels, fs4)
tlines(ax4, 33.63, [21.61, 20.77], ["再冠水過程における露出と冠水の繰り返しによる",
                                     "ボイド率の増減に応じた二相水位の変化"], fs4)
arrow(ax4, (47.9, 20.31), (39.9, 11.31))
brace(ax4, 35.6, 43.3, 10.2, 0.4, 0.5)
tlines(ax4, 24.5, [19.21, 18.3], ["原子炉減圧に伴う減圧沸騰", "による水位上昇（約25分）"], fs4)
tlines(ax4, 0.46, [18.23, 17.39], ["逃がし安全弁（安全弁機能）から", "の蒸気の流出による水位の低下"], fs4)
brace(ax4, 1.03, 23.94, 15.97, 0.58, 0.8)
arrow(ax4, (25.08, 17.78), (25.08, 16.03))
tlines(ax4, 0.86, [15.38], ["シュラウド内（炉心上部プレナム）"], fs4)
tlines(ax4, 31.64, [17.13, 16.22, 15.34], ["原子炉減圧に伴う", "蒸気流出による", "水位低下"], fs4)
arrow(ax4, (30.72, 16.16), (26.73, 14.93))
tlines(ax4, 27.2, [13.96, 13.14], ["注水開始後，徐々に", "水位が回復"], fs4)
arrow(ax4, (29.64, 12.79), (29.64, 6.95))
tlines(ax4, 55.41, [18.69, 17.85, 16.94], ["再冠水以降の蒸気発生", "に伴うボイド率変化に", "応じた二相水位の変化"], fs4)
arrow(ax4, (55.27, 16.68), (54.4, 16.16))
brace(ax4, 48.97, 59.63, 15.19, 0.58, 0.6)
tlines(ax4, 0.86, [8.38], ["シュラウド外"], fs4)
arrow(ax4, (11.4, 8.31), (19.39, 8.77), style_='-')
tlines(ax4, 2.74, [7.08], ["シュラウド内"], fs4)
tlines(ax4, 1.9, [6.24], ["（平均出力燃料集合体）"], fs4)
arrow(ax4, (19.64, 6.95), (27.05, 7.4), style_='-')
tlines(ax4, 0.86, [4.45], ["シュラウド内（炉心下部プレナム）"], fs4)
arrow(ax4, (29.6, 2.74), (33.6, 4.88))
tlines(ax4, 22.35, [2.35, 1.44, 0.56], ["注水された未飽和水により炉心下部プレナムのボイ",
                                         "ド率が低下し，二相水位による満水が維持できなく",
                                         "なるため，水位が形成される"], fs4)
for i, c in enumerate("原子炉水位︵シュラウド内外水位︶"):
    ftext(1381, 1005 + 20 * i, c, 12.5)
ftext(1381, 1342, "(m)", 12.5)
ftext(1833, 1478, "事故後の時間（min）", 12.5)
cap = ftext(1780, 1543, "第2.6－5図　原子炉水位（シュラウド内外水位）の推移（約3.7cm²の破断）", 19)
fig.add_artist(matplotlib.text.Annotation("※", xy=(1, 0.55), xycoords=cap, xytext=(3, 0),
                                          textcoords='offset points', ha='left', va='bottom',
                                          fontsize=12))
ftext(1322, 1617, "※　シュラウド内外水位はボイドを含む場合は，二相水位を示している。", 13, ha='left')
ftext(1795, 1683, "2.6-55", 15)

fig.savefig("out.png", dpi=100, facecolor='white')
